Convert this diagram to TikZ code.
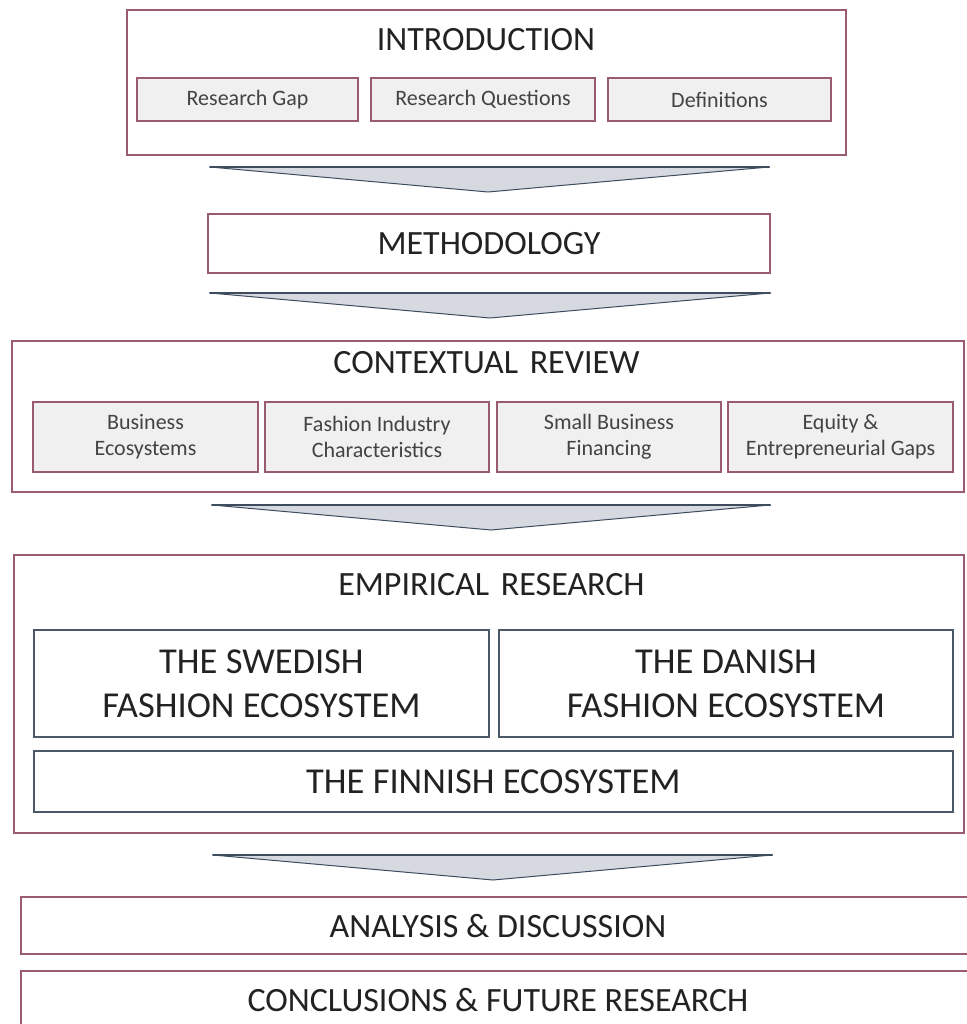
\documentclass[tikz,border=0pt]{standalone}
\usepackage{fontspec}
\setmainfont{Carlito}
\definecolor{mauve}{HTML}{9A5A72}
\definecolor{subfill}{HTML}{F0F0F0}
\definecolor{slate}{HTML}{4A5868}
\definecolor{chevfill}{HTML}{D6D9E0}
\definecolor{chevline}{HTML}{3E4C5E}
\definecolor{ink}{HTML}{222222}
\tikzset{
  outerbox/.style={draw=mauve, line width=1.2pt, fill=white, inner sep=0pt},
  subbox/.style={draw=mauve, line width=1.2pt, fill=subfill, inner sep=0pt, align=center,
    text=ink!85, font=\fontsize{22}{26}\selectfont},
  ecobox/.style={draw=slate, line width=1.2pt, fill=white, inner sep=0pt, align=center,
    text=ink, font=\fontsize{36.5}{44}\selectfont},
  heading/.style={inner sep=0pt, text=ink, font=\fontsize{34}{40}\selectfont},
  chevron/.style={fill=chevfill, draw=chevline, line width=1pt, line join=round},
  chevtop/.style={draw=chevline, line width=2pt, line cap=round}
}
\begin{document}
\begin{tikzpicture}[x=1pt, y=-1pt]
\useasboundingbox (0,0) rectangle (966,1024);
\fill[white] (0,0) rectangle (966,1024);

% Introduction block
\node[outerbox, minimum width=719pt, minimum height=145pt] (intro) at (486.5,82.5) {};
\node[heading, anchor=base] (introT) at (486,51) {INTRODUCTION};
\node[subbox, minimum width=221pt, minimum height=43pt] (gap) at (247.5,99.5) {Research Gap};
\node[subbox, minimum width=224pt, minimum height=43pt] (quest) at (483,99.5) {Research Questions};
\node[subbox, minimum width=223pt, minimum height=43pt] (defs) at (719.5,99.5) {Definitions};

% Methodology
\node[outerbox, heading, draw=mauve, line width=1.2pt, minimum width=562pt, minimum height=59pt] (meth) at (489,243.5) {METHODOLOGY};

% Contextual review block
\node[outerbox, minimum width=952pt, minimum height=151pt] (ctx) at (488,416.5) {};
\node[heading, anchor=base] (ctxT) at (486.5,373) {CONTEXTUAL\hspace{4pt} REVIEW};
\node[subbox, minimum width=225pt, minimum height=70pt] (eco) at (145.5,437) {Business\\Ecosystems};
\node[subbox, minimum width=224pt, minimum height=70pt] (fash) at (377,437) {Fashion Industry\\Characteristics};
\node[subbox, minimum width=224pt, minimum height=70pt] (fin) at (609,437) {Small Business\\Financing};
\node[subbox, minimum width=225pt, minimum height=70pt] (eq) at (840.5,437) {Equity \&\\Entrepreneurial Gaps};

% Empirical research block
\node[outerbox, minimum width=950pt, minimum height=278pt] (emp) at (489,694) {};
\node[heading, anchor=base] (empT) at (491.5,595) {EMPIRICAL\hspace{4pt} RESEARCH};
\node[ecobox, minimum width=455pt, minimum height=107pt] (swe) at (261.5,683.5) {THE SWEDISH\\FASHION ECOSYSTEM};
\node[ecobox, minimum width=454pt, minimum height=107pt] (dan) at (726,683.5) {THE DANISH\\FASHION ECOSYSTEM};
\node[ecobox, minimum width=919pt, minimum height=61pt] (fin2) at (493.5,781.5) {THE FINNISH ECOSYSTEM};

% Analysis and conclusions
\node[outerbox, heading, draw=mauve, line width=1.2pt, minimum width=954pt, minimum height=57pt] (ana) at (498,925.5) {ANALYSIS \& DISCUSSION};
\node[outerbox, heading, draw=mauve, line width=1.2pt, minimum width=954pt, minimum height=58pt] (conc) at (498,1000) {CONCLUSIONS \& FUTURE RESEARCH};

% Chevrons between the stages
\coordinate (c1l) at (210,167); \coordinate (c1r) at (769,167); \coordinate (c1t) at (488,192);
\coordinate (c2l) at (210,293); \coordinate (c2r) at (770,293); \coordinate (c2t) at (490,318);
\coordinate (c3l) at (212,505); \coordinate (c3r) at (770,505); \coordinate (c3t) at (491,530);
\coordinate (c4l) at (213,855); \coordinate (c4r) at (772,855); \coordinate (c4t) at (493,880);
\foreach \c in {c1,c2,c3,c4}{
  \draw[chevron] (\c l) -- (\c t) -- (\c r) -- cycle;
  \draw[chevtop] (\c l) -- (\c r);
}
\end{tikzpicture}
\end{document}
